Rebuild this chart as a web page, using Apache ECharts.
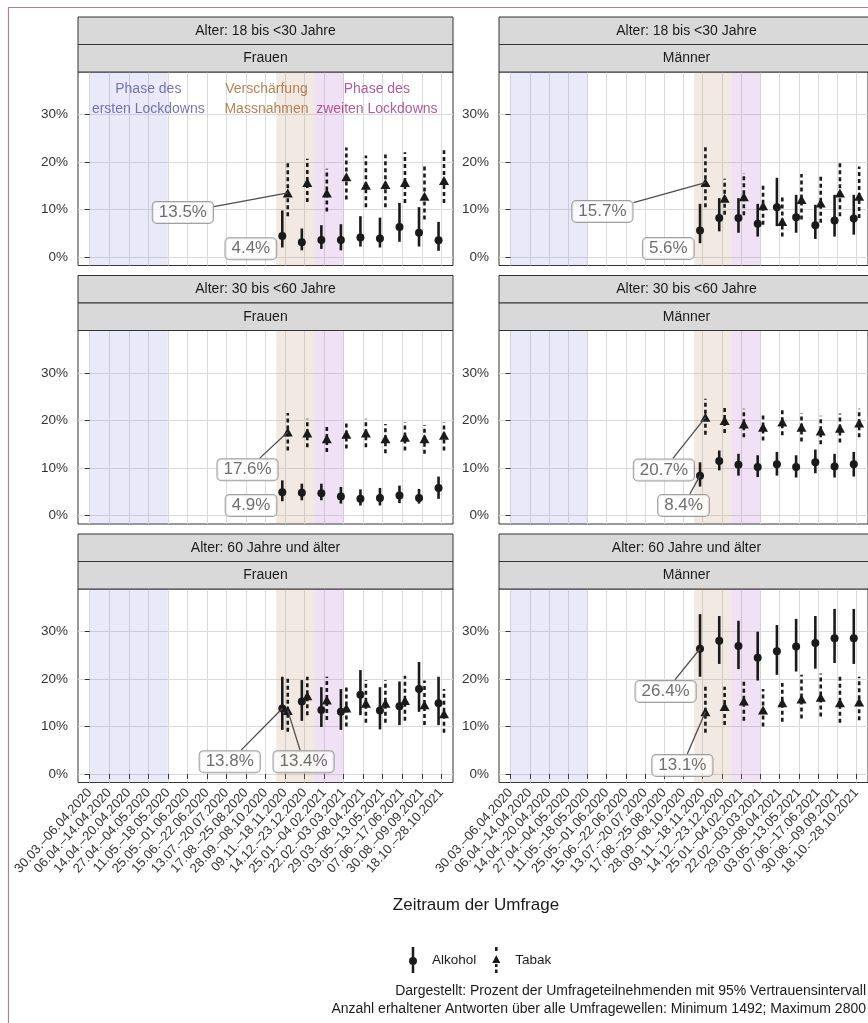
<!DOCTYPE html>
<html>
<head>
<meta charset="utf-8">
<title>Alkohol- und Tabakkonsum nach Alter und Geschlecht</title>
<script src="https://cdn.jsdelivr.net/npm/echarts@6/dist/echarts.min.js"></script>
<style>
  html, body { margin: 0; padding: 0; background: #fff; }
  #chart { width: 868px; height: 1023px; }
</style>
</head>
<body>
<div id="chart"></div>
<script>
// ---- Survey periods (x-axis categories) ----
const categories = [
  '30.03.–06.04.2020', '06.04.–14.04.2020', '14.04.–20.04.2020', '27.04.–04.05.2020',
  '11.05.–18.05.2020', '25.05.–01.06.2020', '15.06.–22.06.2020', '13.07.–20.07.2020',
  '17.08.–25.08.2020', '28.09.–08.10.2020', '09.11.–18.11.2020', '14.12.–23.12.2020',
  '25.01.–04.02.2021', '22.02.–03.03.2021', '29.03.–08.04.2021', '03.05.–13.05.2021',
  '07.06.–17.06.2021', '30.08.–09.09.2021', '18.10.–28.10.2021'
];
// Waves in which the questions were asked
const waves = [
  '09.11.–18.11.2020', '14.12.–23.12.2020', '25.01.–04.02.2021', '22.02.–03.03.2021',
  '29.03.–08.04.2021', '03.05.–13.05.2021', '07.06.–17.06.2021', '30.08.–09.09.2021',
  '18.10.–28.10.2021'
];
const yTickValues = [0, 10, 20, 30];

const ageGroups = ['Alter: 18 bis <30 Jahre', 'Alter: 30 bis <60 Jahre', 'Alter: 60 Jahre und älter'];
const sexes = ['Frauen', 'Männer'];

// Pandemic phases (in category units)
const phaseNames = ['Phase des\nersten Lockdowns', 'Verschärfung\nMassnahmen', 'Phase des\nzweiten Lockdowns'];
const phaseStart = [0, 9.55, 11.5];
const phaseEnd = [4, 11.5, 13];

// ---- Prozent mit 95%-Vertrauensintervall ----
// 18 bis <30, Frauen
const f18Alk   = [4.4, 3.1, 3.6, 3.6, 4.1, 3.9, 6.3, 5.1, 3.5];
const f18AlkLo = [2.0, 1.4, 1.7, 1.4, 2.2, 2.0, 3.2, 2.2, 1.3];
const f18AlkHi = [9.8, 6.0, 6.7, 6.9, 8.6, 8.3, 11.4, 10.5, 7.4];
const f18Tab   = [13.5, 15.7, 13.5, 16.9, 15.1, 15.3, 15.7, 12.8, 16.1];
const f18TabLo = [8.6, 11.6, 9.6, 12.1, 10.5, 10.5, 11.4, 7.9, 11.4];
const f18TabHi = [20.1, 20.7, 18.6, 23.1, 21.4, 21.6, 22.1, 19.5, 22.5];
// 18 bis <30, Männer
const m18Alk   = [5.6, 8.2, 8.2, 7.0, 10.5, 8.4, 6.7, 7.7, 8.1];
const m18AlkLo = [2.9, 5.4, 5.1, 4.3, 6.5, 5.1, 3.8, 4.3, 4.7];
const m18AlkHi = [11.2, 12.4, 12.4, 11.2, 16.7, 13.1, 11.0, 13.1, 13.1];
const m18Tab   = [15.7, 12.4, 12.7, 10.8, 7.5, 12.1, 11.4, 13.5, 12.8];
const m18TabLo = [10.5, 8.9, 8.8, 6.8, 4.3, 7.9, 7.2, 8.6, 8.2];
const m18TabHi = [23.3, 16.5, 17.7, 15.1, 13.1, 17.5, 17.0, 20.2, 19.1];
// 30 bis <60, Frauen
const f30Alk   = [4.9, 4.8, 4.7, 4.0, 3.5, 3.7, 4.2, 3.7, 5.8];
const f30AlkLo = [3.0, 3.2, 3.2, 2.5, 2.1, 2.1, 2.6, 2.5, 3.5];
const f30AlkHi = [7.4, 6.7, 6.7, 6.0, 5.5, 5.8, 6.3, 5.6, 8.2];
const f30Tab   = [17.6, 17.4, 16.2, 17.1, 17.4, 16.2, 16.5, 16.2, 16.9];
const f30TabLo = [13.7, 14.4, 13.4, 14.1, 14.4, 13.1, 13.7, 13.0, 13.7];
const f30TabHi = [21.6, 20.4, 19.2, 20.0, 20.4, 19.3, 19.7, 19.1, 19.7];
// 30 bis <60, Männer
const m30Alk   = [8.4, 11.5, 10.7, 10.2, 10.8, 10.2, 11.2, 10.3, 10.8];
const m30AlkLo = [6.1, 9.5, 8.4, 8.1, 8.4, 8.0, 8.9, 8.0, 8.2];
const m30AlkHi = [11.2, 13.7, 13.0, 12.7, 13.4, 12.7, 13.9, 13.0, 13.4];
const m30Tab   = [20.7, 20.0, 19.3, 18.6, 19.7, 18.6, 17.8, 18.4, 19.5];
const m30TabLo = [17.0, 17.4, 16.5, 15.8, 16.9, 15.6, 15.0, 15.4, 16.5];
const m30TabHi = [24.6, 23.0, 22.5, 21.6, 22.8, 21.6, 21.0, 21.5, 22.5];
// 60 und älter, Frauen
const f60Alk   = [13.8, 15.3, 13.5, 13.1, 16.7, 13.4, 14.3, 17.9, 14.9];
const f60AlkLo = [9.3, 11.2, 9.9, 9.3, 12.4, 9.4, 10.3, 13.1, 10.3];
const f60AlkHi = [20.5, 19.8, 18.3, 17.9, 21.9, 18.3, 19.5, 23.6, 20.5];
const f60Tab   = [13.4, 16.5, 15.6, 13.9, 14.9, 14.9, 15.5, 14.6, 12.7];
const f60TabLo = [8.9, 12.4, 11.4, 10.0, 10.8, 10.8, 11.2, 10.3, 8.7];
const f60TabHi = [20.2, 20.5, 20.5, 18.8, 19.8, 19.8, 20.7, 19.7, 17.9];
// 60 und älter, Männer
const m60Alk   = [26.4, 28.1, 27.0, 24.5, 25.9, 26.9, 27.6, 28.6, 28.6];
const m60AlkLo = [20.5, 23.2, 22.1, 19.7, 20.9, 21.6, 22.2, 23.4, 23.2];
const m60AlkHi = [33.7, 33.3, 32.3, 30.0, 31.4, 32.7, 33.3, 34.8, 34.8];
const m60Tab   = [13.1, 14.2, 15.4, 13.5, 15.0, 15.8, 16.2, 15.0, 15.2];
const m60TabLo = [8.7, 10.3, 11.2, 10.0, 11.0, 11.7, 12.1, 10.8, 11.3];
const m60TabHi = [18.4, 18.4, 19.5, 17.9, 19.2, 20.9, 21.2, 20.5, 20.5];

// ---- Layout & style ----
const FONT = '"Liberation Sans", Arial, Helvetica, sans-serif';
const INK = '#1a1a1a';
const CLEAR = 'rgba(0,0,0,0)';
const PANEL_W = 375, PLOT_H = 193.5, STRIP_H = 27.5;
const COL_LEFT = [78, 499];
const ROW_TOP = [72, 330.5, 589];
const DODGE = 0.14;
const LABEL_FONT = 17, LABEL_PAD = [2, 6];
const phaseFill = ['rgba(125,120,225,0.16)', 'rgba(190,150,110,0.2)', 'rgba(180,110,200,0.2)'];
const phaseText = ['#55559a', '#a2642e', '#9a3580'];
const phaseTextAt = [[3.0, 33.2], [9.05, 33.2], [14.7, 33.2]];

// label box centres for the first wave (first: Alkohol, second: Tabak)
const panels = [
  { age: 0, sex: 0, alk: f18Alk, alkLo: f18AlkLo, alkHi: f18AlkHi, tab: f18Tab, tabLo: f18TabLo, tabHi: f18TabHi, alkAt: [8.25, 1.75], tabAt: [4.77, 9.4] },
  { age: 0, sex: 1, alk: m18Alk, alkLo: m18AlkLo, alkHi: m18AlkHi, tab: m18Tab, tabLo: m18TabLo, tabHi: m18TabHi, alkAt: [8.21, 1.8],  tabAt: [4.78, 9.6] },
  { age: 1, sex: 0, alk: f30Alk, alkLo: f30AlkLo, alkHi: f30AlkHi, tab: f30Tab, tabLo: f30TabLo, tabHi: f30TabHi, alkAt: [8.26, 2.1],  tabAt: [8.08, 9.66] },
  { age: 1, sex: 1, alk: m30Alk, alkLo: m30AlkLo, alkHi: m30AlkHi, tab: m30Tab, tabLo: m30TabLo, tabHi: m30TabHi, alkAt: [9.0, 2.1],   tabAt: [7.98, 9.6] },
  { age: 2, sex: 0, alk: f60Alk, alkLo: f60AlkLo, alkHi: f60AlkHi, tab: f60Tab, tabLo: f60TabLo, tabHi: f60TabHi, alkAt: [7.17, 2.6],  tabAt: [10.95, 2.6] },
  { age: 2, sex: 1, alk: m60Alk, alkLo: m60AlkLo, alkHi: m60AlkHi, tab: m60Tab, tabLo: m60TabLo, tabHi: m60TabHi, alkAt: [8.07, 17.4], tabAt: [8.94, 1.8] }
];

const tickIdx = categories.map((_, i) => i);
const waveIdx = waves.map(w => categories.indexOf(w));
const pct = v => v.toFixed(1) + '%';

const measureCtx = document.createElement('canvas').getContext('2d');
measureCtx.font = LABEL_FONT + 'px ' + FONT;
const boxHalfW = t => (measureCtx.measureText(t).width + 2 * LABEL_PAD[1]) / 2 + 1;
const BOX_HALF_H = (LABEL_FONT + 2 * LABEL_PAD[0]) / 2 + 1;

const grid = [], xAxis = [], yAxis = [], series = [], graphic = [];

panels.forEach((p, i) => {
  const row = p.age, col = p.sex;
  const left = COL_LEFT[col], top = ROW_TOP[row];
  const isBottom = row === ageGroups.length - 1;

  grid.push({ left, top, width: PANEL_W, height: PLOT_H, show: true,
    backgroundColor: '#fff', borderColor: '#333', borderWidth: 1 });

  xAxis.push({
    gridIndex: i, type: 'value', min: -0.6, max: 18.6,
    axisLine: { show: false },
    axisTick: { show: isBottom, customValues: tickIdx, length: 5, lineStyle: { color: '#333', width: 1 } },
    axisLabel: { show: isBottom, customValues: tickIdx, rotate: 48, margin: 8,
      showMinLabel: true, showMaxLabel: true, hideOverlap: false,
      formatter: v => categories[Math.round(v)], fontSize: 13, fontFamily: FONT, color: '#333' },
    splitLine: { show: true, lineStyle: { color: '#dadada', width: 1 } }
  });
  yAxis.push({
    gridIndex: i, type: 'value', min: -1.8, max: 39,
    axisLine: { show: false },
    axisTick: { show: true, customValues: yTickValues, length: 5, lineStyle: { color: '#333', width: 1 } },
    axisLabel: { show: true, customValues: yTickValues, margin: 10,
      formatter: v => v + '%', fontSize: 13.5, fontFamily: FONT, color: '#333' },
    splitLine: { show: true, lineStyle: { color: '#dadada', width: 1 } }
  });

  // shaded pandemic phases
  series.push({
    type: 'scatter', xAxisIndex: i, yAxisIndex: i, data: [], silent: true, z: 1,
    markArea: { silent: true,
      data: phaseNames.map((n, k) => [
        { xAxis: phaseStart[k], itemStyle: { color: phaseFill[k] } },
        { xAxis: phaseEnd[k] }
      ]) }
  });

  // phase captions (first panel only)
  if (i === 0) {
    series.push({
      type: 'scatter', xAxisIndex: i, yAxisIndex: i, silent: true, z: 6,
      symbolSize: 1, itemStyle: { color: CLEAR },
      data: phaseNames.map((n, k) => ({ value: phaseTextAt[k], text: n,
        label: { color: phaseText[k] } })),
      label: { show: true, position: 'inside', formatter: q => q.data.text,
        fontSize: 14, fontFamily: FONT, lineHeight: 20, align: 'center' }
    });
  }

  const errorBars = (lo, hi, dx, dashed) => ({
    type: 'custom', xAxisIndex: i, yAxisIndex: i, silent: true, z: 3,
    data: waveIdx.map((x, k) => [x, lo[k], hi[k]]),
    encode: { x: 0, y: [1, 2] },
    renderItem: (params, api) => {
      const x = api.value(0) + dx;
      const a = api.coord([x, api.value(1)]);
      const b = api.coord([x, api.value(2)]);
      return { type: 'line', shape: { x1: a[0], y1: a[1], x2: b[0], y2: b[1] },
        style: { stroke: INK, lineWidth: 2.6, lineDash: dashed ? [4, 3] : null, lineCap: 'butt' } };
    }
  });
  series.push(errorBars(p.alkLo, p.alkHi, -DODGE, false));
  series.push(errorBars(p.tabLo, p.tabHi, DODGE, true));

  series.push({
    type: 'scatter', name: 'Alkohol', xAxisIndex: i, yAxisIndex: i, z: 4, silent: true,
    symbol: 'circle', symbolSize: 8, itemStyle: { color: INK, opacity: 1 },
    data: waveIdx.map((x, k) => [x - DODGE, p.alk[k]])
  });
  series.push({
    type: 'scatter', name: 'Tabak', xAxisIndex: i, yAxisIndex: i, z: 4, silent: true,
    symbol: 'triangle', symbolSize: [10, 9], itemStyle: { color: INK, opacity: 1 },
    data: waveIdx.map((x, k) => [x + DODGE, p.tab[k]])
  });

  // value labels for the first wave, with connecting segments
  const first = [
    { at: p.alkAt, pt: [waveIdx[0] - DODGE, p.alk[0]], text: pct(p.alk[0]) },
    { at: p.tabAt, pt: [waveIdx[0] + DODGE, p.tab[0]], text: pct(p.tab[0]) }
  ];
  series.push({
    type: 'custom', xAxisIndex: i, yAxisIndex: i, silent: true, z: 5,
    data: first.map(f => [f.at[0], f.at[1], f.pt[0], f.pt[1], boxHalfW(f.text)]),
    renderItem: (params, api) => {
      const c = api.coord([api.value(0), api.value(1)]);
      const q = api.coord([api.value(2), api.value(3)]);
      const hw = api.value(4), hh = BOX_HALF_H;
      const dx = q[0] - c[0], dy = q[1] - c[1];
      const tx = dx !== 0 ? Math.abs(hw / dx) : Infinity;
      const ty = dy !== 0 ? Math.abs(hh / dy) : Infinity;
      const t = Math.min(tx, ty);
      if (t >= 1) return null;
      const s = [c[0] + dx * t, c[1] + dy * t];
      if (Math.hypot(q[0] - s[0], q[1] - s[1]) < 14) return null;
      return { type: 'line', shape: { x1: s[0], y1: s[1], x2: q[0], y2: q[1] },
        style: { stroke: '#4d4d4d', lineWidth: 1.3 } };
    }
  });
  series.push({
    type: 'scatter', xAxisIndex: i, yAxisIndex: i, silent: true, z: 7,
    symbolSize: 1, itemStyle: { color: CLEAR },
    data: first.map(f => ({ value: f.at, text: f.text })),
    label: { show: true, position: 'inside', formatter: q => q.data.text,
      fontSize: LABEL_FONT, fontFamily: FONT, color: '#4a4a4a', lineHeight: LABEL_FONT,
      backgroundColor: 'rgba(255,255,255,0.88)', borderColor: '#8a8a8a', borderWidth: 1,
      borderRadius: 4, padding: LABEL_PAD }
  });

  // facet strips
  [ageGroups[p.age], sexes[p.sex]].forEach((txt, k) => {
    const y = top - 2 * STRIP_H + k * STRIP_H;
    graphic.push({ type: 'rect', silent: true, z: 10,
      shape: { x: left, y, width: PANEL_W, height: STRIP_H },
      style: { fill: '#d9d9d9', stroke: '#333', lineWidth: 1 } });
    graphic.push({ type: 'text', silent: true, z: 11, x: left + PANEL_W / 2, y: y + STRIP_H / 2,
      style: { text: txt, fill: INK, font: '14px ' + FONT, textAlign: 'center', textVerticalAlign: 'middle' } });
  });
});

// outer frame
graphic.push({ type: 'rect', silent: true, z: 0,
  shape: { x: 8.5, y: 7.5, width: 900, height: 1100 },
  style: { fill: 'none', stroke: '#a7849b', lineWidth: 1.2 } });
// axis title and caption
graphic.push({ type: 'text', silent: true, x: 476, y: 905,
  style: { text: 'Zeitraum der Umfrage', fill: INK, font: '17px ' + FONT, textAlign: 'center', textVerticalAlign: 'middle' } });
graphic.push({ type: 'text', silent: true, x: 866, y: 991,
  style: { text: 'Dargestellt: Prozent der Umfrageteilnehmenden mit 95% Vertrauensintervall', fill: INK, font: '14px ' + FONT, textAlign: 'right', textVerticalAlign: 'middle' } });
graphic.push({ type: 'text', silent: true, x: 866, y: 1009,
  style: { text: 'Anzahl erhaltener Antworten über alle Umfragewellen: Minimum 1492; Maximum 2800', fill: INK, font: '14px ' + FONT, textAlign: 'right', textVerticalAlign: 'middle' } });

const ICON_ALK = 'path://M2.75 0H5.25V26H2.75Z M0 14A4 4 0 1 1 8 14A4 4 0 1 1 0 14Z';
const ICON_TAB = 'path://M2.75 0H5.25V4H2.75Z M4 8L8 16H0Z M2.75 17H5.25V20H2.75Z M2.75 22.5H5.25V26H2.75Z';

const chart = echarts.init(document.getElementById('chart'), null, { renderer: 'canvas' });
chart.setOption({
  animation: false,
  backgroundColor: '#fff',
  grid, xAxis, yAxis, series, graphic,
  legend: {
    selectedMode: false, left: 404, top: 942, itemWidth: 8, itemHeight: 26, itemGap: 16,
    textStyle: { fontSize: 13.5, fontFamily: FONT, color: INK, padding: [0, 0, 0, 10] },
    data: [{ name: 'Alkohol', icon: ICON_ALK }, { name: 'Tabak', icon: ICON_TAB }]
  }
});
</script>
</body>
</html>
